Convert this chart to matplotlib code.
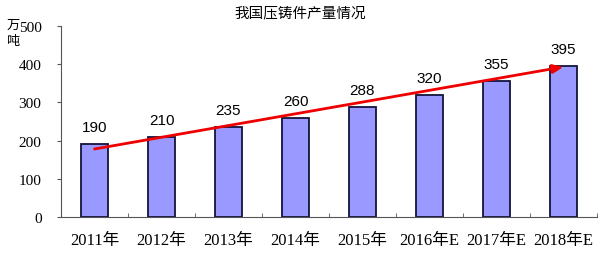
import matplotlib
matplotlib.use("Agg")
import matplotlib.pyplot as plt
import numpy as np

categories = ["2011年", "2012年", "2013年", "2014年", "2015年", "2016年E", "2017年E", "2018年E"]
values = [190, 210, 235, 260, 288, 320, 355, 395]
trend_start = 178
trend_end = 393
yticks = [0, 100, 200, 300, 400, 500]

fam_cjk = ["Liberation Serif", "Noto Sans CJK SC", "DejaVu Sans"]
plt.rcParams['font.family'] = fam_cjk

fig = plt.figure(figsize=(6, 2.55), dpi=100)
ax = fig.add_axes([61/600, 1-218/255, 536/600, 191/255])
x = np.arange(len(categories))
ax.bar(x, values, width=0.4, color="#9999FF", edgecolor="#14143c", linewidth=1.3, zorder=2)
ax.set_xlim(-0.5, len(categories)-0.5)
ax.set_ylim(0, 500)
ax.set_yticks(yticks)
ax.set_yticklabels([str(t) for t in yticks], fontsize=11, family="Liberation Serif")
ax.set_xticks(x)
ax.set_xticklabels(categories, fontsize=12)
ax.tick_params(axis="x", length=0, pad=11)
ax.set_xticks(np.arange(-0.5, len(categories), 1), minor=True)
ax.tick_params(axis="x", which="minor", direction="in", length=3, color="#555555")
ax.tick_params(axis="y", direction="out", length=3, color="#555555", pad=11)
for s in ["top", "right"]:
    ax.spines[s].set_visible(False)
ax.spines["left"].set_color("#555555")
ax.spines["bottom"].set_color("#555555")

for xi, v in zip(x, values):
    ax.text(xi, v + 26, str(v), ha="center", va="bottom", fontsize=11, family="Liberation Sans")

ax.annotate("", xy=(x[-1], trend_end), xytext=(x[0], trend_start),
            arrowprops=dict(arrowstyle="-|>,head_length=0.6,head_width=0.25", color="#EE0000", lw=2, shrinkA=0, shrinkB=0),
            zorder=3)

fig.text(300/600, 1-13/255, "我国压铸件产量情况", ha="center", va="center", fontsize=10.5, family=["Noto Sans CJK SC"])
fig.text(13/600, 1-25/255, "万", ha="center", va="center", fontsize=9.5, family=["Noto Sans CJK SC"])
fig.text(13/600, 1-41/255, "吨", ha="center", va="center", fontsize=9.5, family=["Noto Sans CJK SC"])

fig.savefig("out.png", dpi=100)
